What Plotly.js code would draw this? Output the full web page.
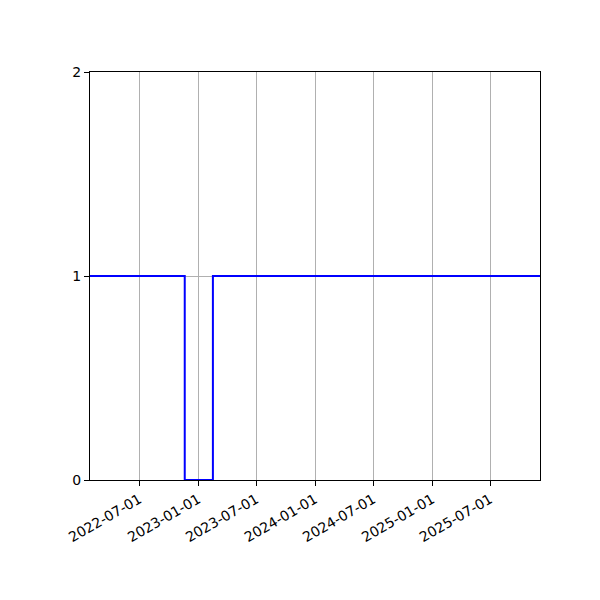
<!DOCTYPE html>
<html>
<head>
<meta charset="utf-8">
<script src="https://cdn.plot.ly/plotly-3.0.1.min.js"></script>
<style>
  body { margin: 0; background: #fff; }
  #chart { width: 600px; height: 600px; }
</style>
</head>
<body>
<div id="chart"></div>
<script>
// step series
const dates = ['2022-01-28', '2022-11-20', '2023-02-16', '2025-12-04'];
const values = [1, 0, 1, 1];

const tickDates = ['2022-07-01', '2023-01-01', '2023-07-01', '2024-01-01', '2024-07-01', '2025-01-01', '2025-07-01'];
const yTicks = [0, 1, 2];

const axisStyle = {
  showline: true,
  mirror: true,
  linecolor: '#000',
  linewidth: 1,
  ticks: 'outside',
  ticklen: 5,
  tickwidth: 1,
  tickcolor: '#000',
  showgrid: true,
  gridcolor: '#b0b0b0',
  gridwidth: 1,
  zeroline: false,
  tickfont: { family: 'DejaVu Sans', size: 14, color: '#000' },
};

const data = [{
  x: dates,
  y: values,
  type: 'scatter',
  mode: 'lines',
  line: { shape: 'hv', color: '#0000ff', width: 2 },
  hoverinfo: 'skip',
}];

const layout = {
  width: 600,
  height: 600,
  margin: { l: 90, r: 60, t: 72, b: 120 },
  paper_bgcolor: '#fff',
  plot_bgcolor: '#fff',
  showlegend: false,
  xaxis: {
    ...axisStyle,
    type: 'date',
    range: [dates[0], dates[dates.length - 1]],
    tickvals: tickDates,
    ticktext: tickDates,
    tickangle: -30,
  },
  yaxis: {
    ...axisStyle,
    range: [0, 2],
    tickvals: yTicks,
    ticktext: yTicks.map(String),
  },
};

Plotly.newPlot('chart', data, layout, { staticPlot: true });
</script>
</body>
</html>
